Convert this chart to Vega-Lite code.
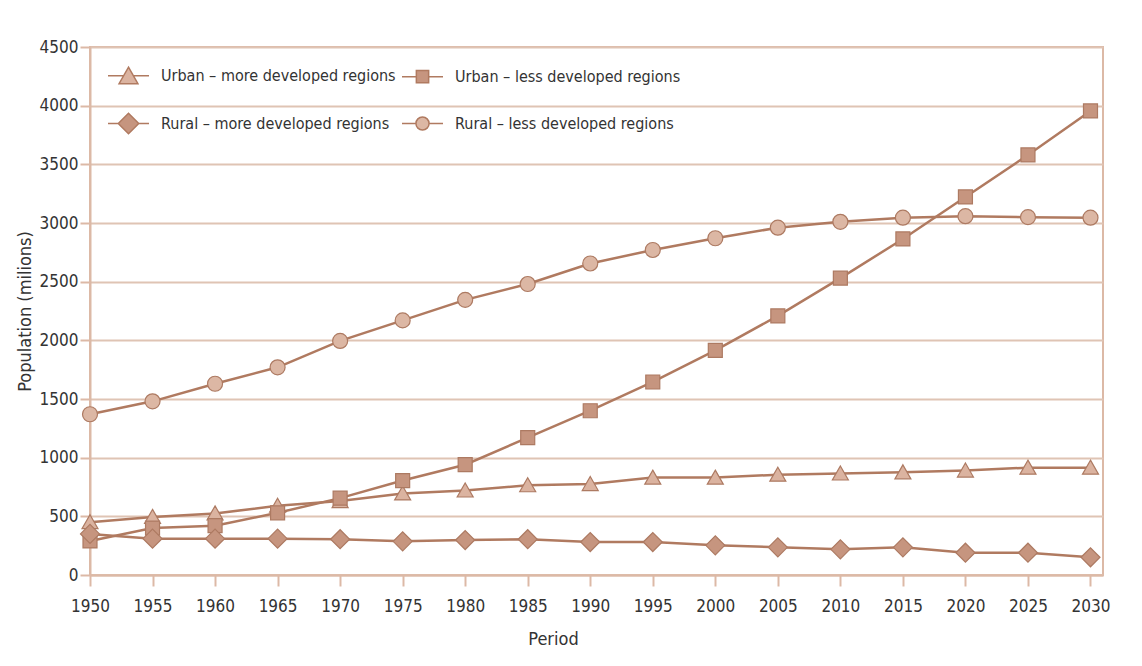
{
  "$schema": "https://vega.github.io/schema/vega-lite/v6.json",
  "width": 1013,
  "height": 528,
  "autosize": {"type": "none"},
  "padding": {"left": 90, "top": 47, "right": 39, "bottom": 91},
  "background": "white",
  "data": {
    "values": [
      {"year": 1950, "series": "Urban – more developed regions", "value": 450},
      {"year": 1955, "series": "Urban – more developed regions", "value": 495},
      {"year": 1960, "series": "Urban – more developed regions", "value": 525},
      {"year": 1965, "series": "Urban – more developed regions", "value": 590},
      {"year": 1970, "series": "Urban – more developed regions", "value": 630},
      {"year": 1975, "series": "Urban – more developed regions", "value": 695},
      {"year": 1980, "series": "Urban – more developed regions", "value": 720},
      {"year": 1985, "series": "Urban – more developed regions", "value": 765},
      {"year": 1990, "series": "Urban – more developed regions", "value": 775},
      {"year": 1995, "series": "Urban – more developed regions", "value": 830},
      {"year": 2000, "series": "Urban – more developed regions", "value": 830},
      {"year": 2005, "series": "Urban – more developed regions", "value": 855},
      {"year": 2010, "series": "Urban – more developed regions", "value": 865},
      {"year": 2015, "series": "Urban – more developed regions", "value": 875},
      {"year": 2020, "series": "Urban – more developed regions", "value": 890},
      {"year": 2025, "series": "Urban – more developed regions", "value": 915},
      {"year": 2030, "series": "Urban – more developed regions", "value": 915},
      {"year": 1950, "series": "Urban – less developed regions", "value": 290},
      {"year": 1955, "series": "Urban – less developed regions", "value": 400},
      {"year": 1960, "series": "Urban – less developed regions", "value": 420},
      {"year": 1965, "series": "Urban – less developed regions", "value": 530},
      {"year": 1970, "series": "Urban – less developed regions", "value": 655},
      {"year": 1975, "series": "Urban – less developed regions", "value": 805},
      {"year": 1980, "series": "Urban – less developed regions", "value": 940},
      {"year": 1985, "series": "Urban – less developed regions", "value": 1170},
      {"year": 1990, "series": "Urban – less developed regions", "value": 1400},
      {"year": 1995, "series": "Urban – less developed regions", "value": 1645},
      {"year": 2000, "series": "Urban – less developed regions", "value": 1915},
      {"year": 2005, "series": "Urban – less developed regions", "value": 2208},
      {"year": 2010, "series": "Urban – less developed regions", "value": 2530},
      {"year": 2015, "series": "Urban – less developed regions", "value": 2864},
      {"year": 2020, "series": "Urban – less developed regions", "value": 3222},
      {"year": 2025, "series": "Urban – less developed regions", "value": 3580},
      {"year": 2030, "series": "Urban – less developed regions", "value": 3955},
      {"year": 1950, "series": "Rural – more developed regions", "value": 350},
      {"year": 1955, "series": "Rural – more developed regions", "value": 310},
      {"year": 1960, "series": "Rural – more developed regions", "value": 310},
      {"year": 1965, "series": "Rural – more developed regions", "value": 310},
      {"year": 1970, "series": "Rural – more developed regions", "value": 305},
      {"year": 1975, "series": "Rural – more developed regions", "value": 287},
      {"year": 1980, "series": "Rural – more developed regions", "value": 298},
      {"year": 1985, "series": "Rural – more developed regions", "value": 305},
      {"year": 1990, "series": "Rural – more developed regions", "value": 281},
      {"year": 1995, "series": "Rural – more developed regions", "value": 281},
      {"year": 2000, "series": "Rural – more developed regions", "value": 253},
      {"year": 2005, "series": "Rural – more developed regions", "value": 236},
      {"year": 2010, "series": "Rural – more developed regions", "value": 219},
      {"year": 2015, "series": "Rural – more developed regions", "value": 236},
      {"year": 2020, "series": "Rural – more developed regions", "value": 190},
      {"year": 2025, "series": "Rural – more developed regions", "value": 190},
      {"year": 2030, "series": "Rural – more developed regions", "value": 151},
      {"year": 1950, "series": "Rural – less developed regions", "value": 1370},
      {"year": 1955, "series": "Rural – less developed regions", "value": 1480},
      {"year": 1960, "series": "Rural – less developed regions", "value": 1630},
      {"year": 1965, "series": "Rural – less developed regions", "value": 1770},
      {"year": 1970, "series": "Rural – less developed regions", "value": 1995},
      {"year": 1975, "series": "Rural – less developed regions", "value": 2170},
      {"year": 1980, "series": "Rural – less developed regions", "value": 2345},
      {"year": 1985, "series": "Rural – less developed regions", "value": 2480},
      {"year": 1990, "series": "Rural – less developed regions", "value": 2655},
      {"year": 1995, "series": "Rural – less developed regions", "value": 2770},
      {"year": 2000, "series": "Rural – less developed regions", "value": 2870},
      {"year": 2005, "series": "Rural – less developed regions", "value": 2960},
      {"year": 2010, "series": "Rural – less developed regions", "value": 3010},
      {"year": 2015, "series": "Rural – less developed regions", "value": 3045},
      {"year": 2020, "series": "Rural – less developed regions", "value": 3058},
      {"year": 2025, "series": "Rural – less developed regions", "value": 3050},
      {"year": 2030, "series": "Rural – less developed regions", "value": 3045}
    ]
  },
  "encoding": {
    "x": {
      "field": "year",
      "type": "quantitative",
      "scale": {"domain": [1950, 2031], "nice": false, "zero": false},
      "axis": {
        "values": [1950, 1955, 1960, 1965, 1970, 1975, 1980, 1985, 1990, 1995, 2000, 2005, 2010, 2015, 2020, 2025, 2030],
        "format": "d",
        "grid": false,
        "tickSize": 11,
        "labelPadding": 12,
        "labelFlush": false,
        "labelOverlap": false,
        "title": "Period",
        "titlePadding": 16,
        "titleX": 463
      }
    },
    "y": {
      "field": "value",
      "type": "quantitative",
      "scale": {"domain": [0, 4500], "nice": false},
      "axis": {
        "values": [0, 500, 1000, 1500, 2000, 2500, 3000, 3500, 4000, 4500],
        "format": "d",
        "grid": true,
        "tickSize": 10,
        "labelPadding": 2,
        "labelFlush": false,
        "labelOverlap": false,
        "title": "Population (milions)",
        "titlePadding": 5
      }
    }
  },
  "layer": [
    {
      "mark": {"type": "line", "stroke": "#b07a60", "strokeWidth": 2.5},
      "encoding": {"detail": {"field": "series", "type": "nominal"}}
    },
    {
      "mark": {"type": "point", "filled": true, "opacity": 1, "stroke": "#ad7a62", "strokeWidth": 1.2, "size": 400},
      "encoding": {
        "shape": {
          "field": "series",
          "type": "nominal",
          "scale": {
            "range": ["M-0.75,0A0.75,0.75,0,1,0,0.75,0A0.75,0.75,0,1,0,-0.75,0Z", "M-0.95,0L0,-0.95L0.95,0L0,0.95Z", "M-0.7,-0.7H0.7V0.7H-0.7Z", "M0,-0.75L0.8,0.65L-0.8,0.65Z"]
          },
          "legend": null
        },
        "fill": {
          "field": "series",
          "type": "nominal",
          "scale": {
            "domain": ["Urban – more developed regions", "Urban – less developed regions", "Rural – more developed regions", "Rural – less developed regions"],
            "range": ["#dbb3a0", "#c6957f", "#c6957f", "#dcb7a4"]
          },
          "legend": {
            "title": null,
            "orient": "none",
            "legendX": 17,
            "legendY": 7,
            "columns": 2,
            "direction": "horizontal",
            "symbolType": {"expr": "datum.value === 'Urban – more developed regions' ? 'M-1,0H-0.24M0.24,0H1M0,-0.42L0.46,0.38L-0.46,0.38Z' : datum.value === 'Urban – less developed regions' ? 'M-1,0H-0.3M0.3,0H1M-0.3,-0.3H0.3V0.3H-0.3Z' : datum.value === 'Rural – more developed regions' ? 'M-1,0H-0.5M0.5,0H1M-0.5,0L0,-0.5L0.5,0L0,0.5Z' : 'M-1,0H-0.32M0.32,0H1M-0.32,0A0.32,0.32,0,1,0,0.32,0A0.32,0.32,0,1,0,-0.32,0Z'"},
            "encode": {
              "symbols": {
                "size": {"value": 1681},
                "stroke": {"value": "#b07a60"},
                "strokeWidth": {"value": 1.8},
                "opacity": {"value": 1}
              }
            }
          }
        }
      }
    }
  ],
  "config": {
    "font": "Liberation Sans Narrow, DejaVu Sans Condensed, sans-serif",
    "view": {"stroke": "#dcb9a6", "strokeWidth": 2},
    "axis": {
      "labelFont": "Liberation Sans Narrow, DejaVu Sans Condensed, sans-serif",
      "labelFontSize": 17,
      "labelColor": "#333333",
      "titleFont": "Liberation Sans Narrow, DejaVu Sans Condensed, sans-serif",
      "titleFontSize": 18,
      "titleFontWeight": "normal",
      "titleColor": "#333333",
      "domainColor": "#dcb9a6",
      "domainWidth": 2,
      "tickColor": "#dcb9a6",
      "tickWidth": 2,
      "gridColor": "#dfc4b4",
      "gridWidth": 2,
      "gridOpacity": 1
    },
    "legend": {
      "padding": 0,
      "labelFont": "Liberation Sans Narrow, DejaVu Sans Condensed, sans-serif",
      "labelFontSize": 16,
      "labelColor": "#333333",
      "labelOffset": 11,
      "labelLimit": 400,
      "symbolSize": 1681,
      "columnPadding": 3,
      "rowPadding": 15,
      "symbolStrokeColor": "#b07a60"
    }
  }
}
